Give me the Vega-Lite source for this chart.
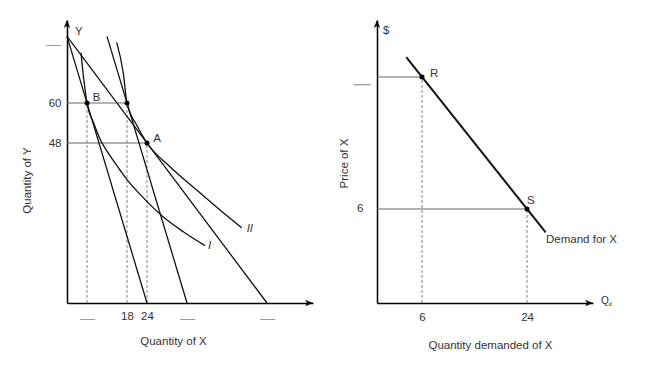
{
  "$schema": "https://vega.github.io/schema/vega-lite/v6.json",
  "padding": {"left": 21, "top": 20, "right": 0, "bottom": 0},
  "background": "white",
  "datasets": {
    "lBudget": [
      {"x": 0, "y": 80, "x2": 60, "y2": 0},
      {"x": 0, "y": 80, "x2": 24, "y2": 0},
      {"x": 12, "y": 80, "x2": 36, "y2": 0}
    ],
    "lGuide": [
      {"x": 0, "y": 60, "x2": 18, "y2": 60},
      {"x": 0, "y": 48, "x2": 24, "y2": 48}
    ],
    "lDash": [
      {"x": 6, "y": 0, "x2": 6, "y2": 60},
      {"x": 18, "y": 0, "x2": 18, "y2": 60},
      {"x": 24, "y": 0, "x2": 24, "y2": 48}
    ],
    "lCurves": [
      {"curve": "I", "x": 4.2, "y": 75.1},
      {"curve": "I", "x": 4.7, "y": 70},
      {"curve": "I", "x": 5.3, "y": 65},
      {"curve": "I", "x": 6, "y": 60},
      {"curve": "I", "x": 8, "y": 54},
      {"curve": "I", "x": 10, "y": 49},
      {"curve": "I", "x": 12.5, "y": 44.8},
      {"curve": "I", "x": 15.9, "y": 39.9},
      {"curve": "I", "x": 18, "y": 37},
      {"curve": "I", "x": 22, "y": 32.5},
      {"curve": "I", "x": 28.9, "y": 25.8},
      {"curve": "I", "x": 35, "y": 21.3},
      {"curve": "I", "x": 41.4, "y": 17.2},
      {"curve": "II", "x": 14.9, "y": 78.2},
      {"curve": "II", "x": 16.9, "y": 68.9},
      {"curve": "II", "x": 18, "y": 60},
      {"curve": "II", "x": 20.9, "y": 53.4},
      {"curve": "II", "x": 24, "y": 48},
      {"curve": "II", "x": 30.9, "y": 40.9},
      {"curve": "II", "x": 38.9, "y": 33.9},
      {"curve": "II", "x": 45.9, "y": 27.9},
      {"curve": "II", "x": 52.4, "y": 22.6}
    ],
    "lPoints": [
      {"x": 6, "y": 60},
      {"x": 18, "y": 60},
      {"x": 24, "y": 48}
    ],
    "lText": [
      {"x": 7.7, "y": 60.5, "t": "B"},
      {"x": 25.9, "y": 48.4, "t": "A"},
      {"x": 2.4, "y": 80.4, "t": "Y"}
    ],
    "lItalic": [
      {"x": 53.9, "y": 21.4, "t": "II"},
      {"x": 42.3, "y": 16.1, "t": "I"}
    ],
    "lArrowRight": [{"x": 73.8, "y": 0}],
    "lArrowUp": [{"x": 0, "y": 84.9}],
    "rDemand": [{"x": 3.3, "y": 16.35, "x2": 27.2, "y2": 4.4}],
    "rGuide": [
      {"x": -1.714, "y": 15, "x2": 6, "y2": 15},
      {"x": -1.714, "y": 6, "x2": 24, "y2": 6}
    ],
    "rDash": [
      {"x": 6, "y": -0.409, "x2": 6, "y2": 15},
      {"x": 24, "y": -0.409, "x2": 24, "y2": 6}
    ],
    "rPoints": [
      {"x": 6, "y": 15},
      {"x": 24, "y": 6}
    ],
    "rText": [
      {"x": 7.37, "y": 15.0, "t": "R"},
      {"x": 24.0, "y": 6.34, "t": "S"},
      {"x": 27.26, "y": 3.68, "t": "Demand for X"},
      {"x": -0.7, "y": 17.9, "t": "$"}
    ],
    "rQ": [{"x": 36.7, "y": -0.3, "t": "Q"}],
    "rQsub": [{"x": 37.95, "y": -0.5, "t": "d"}],
    "rArrowRight": [{"x": 35.31, "y": -0.409}],
    "rArrowUp": [{"x": -1.714, "y": 18.886}]
  },
  "hconcat": [
    {
      "width": 246,
      "height": 283,
      "encoding": {
        "x": {
          "field": "x", "type": "quantitative",
          "scale": {"domain": [0, 73.8], "nice": false, "zero": false},
          "axis": {
            "title": "Quantity of X",
            "values": [6, 18, 24, 36, 60],
            "labelExpr": "(datum.value == 18 || datum.value == 24) ? datum.label : '—'",
            "labelPadding": 7,
            "labelFontSize": {"condition": {"test": "datum.value == 18 || datum.value == 24", "value": 11.5}, "value": 15},
            "labelColor": {"condition": {"test": "datum.value == 18 || datum.value == 24", "value": "#333"}, "value": "#999"},
            "labelFlush": false,
            "labelOverlap": false,
            "titleX": 106,
            "titleY": 41.5,
            "titleBaseline": "alphabetic"
          }
        },
        "y": {
          "field": "y", "type": "quantitative",
          "scale": {"domain": [0, 84.9], "nice": false, "zero": false},
          "axis": {
            "title": "Quantity of Y",
            "values": [48, 60, 80],
            "labelExpr": "datum.value == 80 ? '—' : datum.label",
            "labelPadding": 6,
            "labelFontSize": {"condition": {"test": "datum.value == 80", "value": 15}, "value": 11.5},
            "labelColor": {"condition": {"test": "datum.value == 80", "value": "#999"}, "value": "#333"},
            "labelOffset": {"condition": {"test": "datum.value == 80", "value": 7}, "value": 0},
            "labelFlush": false,
            "labelOverlap": false,
            "titleX": -36.5,
            "titleY": 160,
            "titleBaseline": "alphabetic"
          }
        }
      },
      "layer": [
        {"data": {"name": "lGuide"}, "mark": {"type": "rule", "color": "#666", "strokeWidth": 1}, "encoding": {"x2": {"field": "x2"}, "y2": {"field": "y2"}}},
        {"data": {"name": "lDash"}, "mark": {"type": "rule", "color": "#777", "strokeWidth": 0.9, "strokeDash": [3, 2]}, "encoding": {"x2": {"field": "x2"}, "y2": {"field": "y2"}}},
        {"data": {"name": "lBudget"}, "mark": {"type": "rule", "color": "#111", "strokeWidth": 1.3}, "encoding": {"x2": {"field": "x2"}, "y2": {"field": "y2"}}},
        {"data": {"name": "lCurves"}, "mark": {"type": "line", "color": "#111", "strokeWidth": 1.3, "interpolate": "monotone"}, "encoding": {"detail": {"field": "curve"}}},
        {"data": {"name": "lPoints"}, "mark": {"type": "point", "filled": true, "color": "#000", "size": 25, "opacity": 1}, "encoding": {}},
        {"data": {"name": "lText"}, "mark": {"type": "text", "align": "left", "baseline": "alphabetic", "fontSize": 11.5, "color": "#333"}, "encoding": {"text": {"field": "t"}}},
        {"data": {"name": "lItalic"}, "mark": {"type": "text", "align": "left", "baseline": "alphabetic", "fontSize": 11.5, "fontStyle": "italic", "color": "#333"}, "encoding": {"text": {"field": "t"}}},
        {"data": {"name": "lArrowRight"}, "mark": {"type": "point", "filled": true, "color": "#000", "opacity": 1, "size": 256, "shape": "M0,0L-1,-0.4L-0.72,0L-1,0.4Z"}, "encoding": {}},
        {"data": {"name": "lArrowUp"}, "mark": {"type": "point", "filled": true, "color": "#000", "opacity": 1, "size": 256, "shape": "M0,0L-0.4,1L0,0.72L0.4,1Z"}, "encoding": {}}
      ]
    },
    {
      "width": 216,
      "height": 283,
      "encoding": {
        "x": {
          "field": "x", "type": "quantitative",
          "scale": {"domain": [-1.714, 35.31], "nice": false, "zero": false},
          "axis": {
            "title": "Quantity demanded of X",
            "values": [6, 24],
            "labelPadding": 8,
            "labelFlush": false,
            "labelOverlap": false,
            "titleX": 113,
            "titleY": 45,
            "titleBaseline": "alphabetic"
          }
        },
        "y": {
          "field": "y", "type": "quantitative",
          "scale": {"domain": [-0.409, 18.886], "nice": false, "zero": false},
          "axis": {
            "title": "Price of X",
            "values": [6, 15],
            "labelExpr": "datum.value == 15 ? '—' : datum.label",
            "labelPadding": {"condition": {"test": "datum.value == 15", "value": 7}, "value": 14},
            "labelFontSize": {"condition": {"test": "datum.value == 15", "value": 17}, "value": 11.5},
            "labelColor": {"condition": {"test": "datum.value == 15", "value": "#999"}, "value": "#333"},
            "labelOffset": {"condition": {"test": "datum.value == 15", "value": 7}, "value": 0},
            "labelFlush": false,
            "labelOverlap": false,
            "titleX": -29.5,
            "titleY": 143,
            "titleBaseline": "alphabetic"
          }
        }
      },
      "layer": [
        {"data": {"name": "rGuide"}, "mark": {"type": "rule", "color": "#666", "strokeWidth": 1}, "encoding": {"x2": {"field": "x2"}, "y2": {"field": "y2"}}},
        {"data": {"name": "rDash"}, "mark": {"type": "rule", "color": "#777", "strokeWidth": 0.9, "strokeDash": [3, 2]}, "encoding": {"x2": {"field": "x2"}, "y2": {"field": "y2"}}},
        {"data": {"name": "rDemand"}, "mark": {"type": "rule", "color": "#111", "strokeWidth": 2}, "encoding": {"x2": {"field": "x2"}, "y2": {"field": "y2"}}},
        {"data": {"name": "rPoints"}, "mark": {"type": "point", "filled": true, "color": "#000", "size": 25, "opacity": 1}, "encoding": {}},
        {"data": {"name": "rText"}, "mark": {"type": "text", "align": "left", "baseline": "alphabetic", "fontSize": 11.5, "color": "#333"}, "encoding": {"text": {"field": "t"}}},
        {"data": {"name": "rQ"}, "mark": {"type": "text", "align": "left", "baseline": "middle", "fontSize": 10, "color": "#333"}, "encoding": {"text": {"field": "t"}}},
        {"data": {"name": "rQsub"}, "mark": {"type": "text", "align": "left", "baseline": "middle", "fontSize": 6, "color": "#333"}, "encoding": {"text": {"field": "t"}}},
        {"data": {"name": "rArrowRight"}, "mark": {"type": "point", "filled": true, "color": "#000", "opacity": 1, "size": 256, "shape": "M0,0L-1,-0.4L-0.72,0L-1,0.4Z"}, "encoding": {}},
        {"data": {"name": "rArrowUp"}, "mark": {"type": "point", "filled": true, "color": "#000", "opacity": 1, "size": 256, "shape": "M0,0L-0.4,1L0,0.72L0.4,1Z"}, "encoding": {}}
      ]
    }
  ],
  "spacing": 64,
  "bounds": "flush",
  "config": {
    "font": "Liberation Sans",
    "view": {"stroke": null},
    "axis": {
      "labelFont": "Liberation Sans",
      "titleFont": "Liberation Sans",
      "labelFontSize": 11.5,
      "titleFontSize": 11.5,
      "titleFontWeight": "normal",
      "titleColor": "#333",
      "labelColor": "#333",
      "domainColor": "#000",
      "domainWidth": 1.5,
      "ticks": false,
      "grid": false
    },
    "text": {"font": "Liberation Sans"}
  }
}
